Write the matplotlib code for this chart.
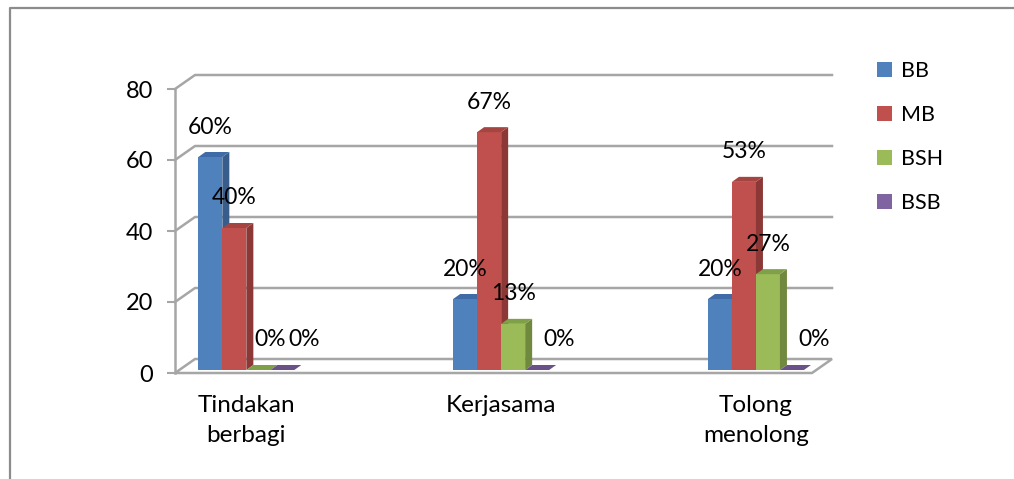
import numpy as np
import matplotlib
matplotlib.use("Agg")
import matplotlib.pyplot as plt
from matplotlib.patches import Polygon, Patch
from matplotlib.lines import Line2D

plt.rcParams['font.family'] = ['Lato', 'DejaVu Sans']

categories = ["Tindakan\nberbagi", "Kerjasama", "Tolong\nmenolong"]
series = ["BB", "MB", "BSH", "BSB"]
BB = [60, 20, 20]
MB = [40, 67, 53]
BSH = [0, 13, 27]
BSB = [0, 0, 0]
yticks = [0, 20, 40, 60, 80]

values = [BB, MB, BSH, BSB]
front = ["#4F81BD", "#C0504D", "#9BBB59", "#8064A2"]
side = ["#385D8A", "#8C3836", "#71893F", "#5C4776"]
top = ["#3F6CA6", "#A54542", "#7F9F48", "#6A5289"]

W, H = 1014, 479
fig = plt.figure(figsize=(W / 100, H / 100), dpi=100)

# axes box in pixels (left, bottom, width, height)
AX_L, AX_B, AX_W, AX_H = 175, 106, 637, 284
ax = fig.add_axes([AX_L / W, AX_B / H, AX_W / W, AX_H / H])
XLIM = (-0.28, 2.22)
YLIM = (0, 80)
ax.set_xlim(*XLIM)
ax.set_ylim(*YLIM)

# pixel -> data units
ux = (XLIM[1] - XLIM[0]) / AX_W
uy = (YLIM[1] - YLIM[0]) / AX_H

WDX, WDY = 20 * ux, 14 * uy      # wall depth
BDX, BDY = 7 * ux, 5 * uy        # bar depth
LIFT = 3 * uy                    # bars sit mid-floor
bw = 24 * ux
grid_c = "#a6a6a6"

x0, x1 = XLIM
# floor
ax.add_patch(Polygon([(x0, 0), (x1, 0), (x1 + WDX, WDY), (x0 + WDX, WDY)],
                     closed=True, facecolor="white", edgecolor=grid_c,
                     lw=1.8, clip_on=False, zorder=1))
# gridlines on side + back wall
for yv in yticks[1:]:
    ax.plot([x0, x0 + WDX, x1 + WDX], [yv, yv + WDY, yv + WDY],
            color=grid_c, lw=1.8, clip_on=False, zorder=1)

# bars
cats = np.arange(len(categories))
zero_dx = [0, 0, 12, 22]
z = 3
for c in cats:
    for i in range(len(series)):
        v = values[i][c]
        x = c + (i - 1.5) * bw
        ax.bar(x, v, width=bw, bottom=LIFT, color=front[i], lw=0, zorder=z)
        xr = x + bw / 2
        xl = x - bw / 2
        yt = v + LIFT
        if v > 0:
            ax.add_patch(Polygon([(xr, LIFT), (xr, yt), (xr + BDX, yt + BDY),
                                  (xr + BDX, LIFT + BDY)], closed=True,
                                 facecolor=side[i], lw=0, zorder=z, clip_on=False))
        ax.add_patch(Polygon([(xl, yt), (xr, yt), (xr + BDX, yt + BDY),
                              (xl + BDX, yt + BDY)], closed=True,
                             facecolor=top[i], lw=0, zorder=z, clip_on=False))
        z += 1
        dx = zero_dx[i] if v == 0 else 0
        ax.annotate(f"{v}%", (x, yt), xytext=(dx, 30), textcoords="offset pixels",
                    ha="center", va="center", fontsize=16.5, zorder=50)

# axes styling
for s in ["top", "right", "bottom"]:
    ax.spines[s].set_visible(False)
ax.spines["left"].set_color(grid_c)
ax.spines["left"].set_linewidth(1.8)
ax.set_yticks(yticks)
ax.tick_params(axis="y", length=6, width=1.5, color=grid_c, pad=10, labelsize=17)
ax.set_xticks(cats)
ax.set_xticklabels(categories, fontsize=17.5, linespacing=1.5)
ax.tick_params(axis="x", length=0, pad=16)

# legend
handles = [Patch(facecolor=front[i], edgecolor="none", label=series[i])
           for i in range(len(series))]
ax.legend(handles=handles, loc="upper left", bbox_to_anchor=(877 / W, (H - 61) / H),
          bbox_transform=fig.transFigure, frameon=False, fontsize=15.5,
          handlelength=0.7, handleheight=0.7, handletextpad=0.4,
          labelspacing=1.12, borderpad=0, borderaxespad=0)

# outer chart border (left + top only visible in crop)
fig.add_artist(Line2D([10 / W, 10 / W, 1.0], [0, (H - 8) / H, (H - 8) / H],
                      transform=fig.transFigure, color="#8c8c8c", lw=1.6))

fig.savefig("out.png", dpi=100)
